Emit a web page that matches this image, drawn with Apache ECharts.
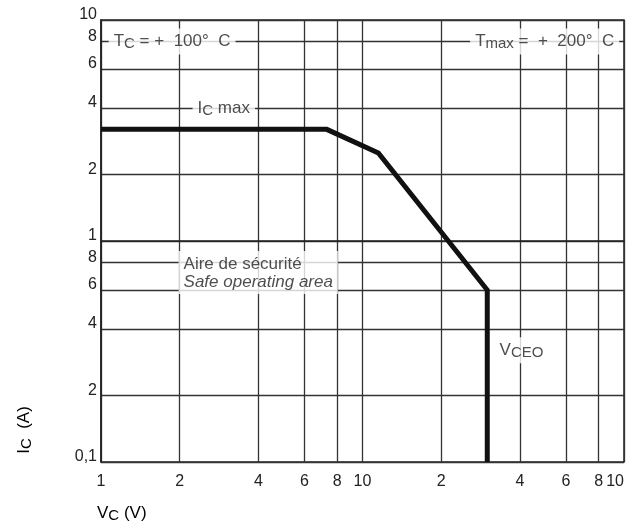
<!DOCTYPE html>
<html>
<head>
<meta charset="utf-8">
<script src="https://cdn.jsdelivr.net/npm/echarts@6/dist/echarts.min.js"></script>
<style>
html,body{margin:0;padding:0;background:#fff}
#soa{width:627px;height:526px}
</style>
</head>
<body>
<div id="soa"></div>
<script>
// log-log grid ticks and their printed labels
var xTicks=[1,2,4,6,8,10,20,40,60,80,100]
var xTickLabels=['1','2','4','6','8','10','2','4','6','8','10']
var yTicks=[0.1,0.2,0.4,0.6,0.8,1,2,4,6,8,10]
var yTickLabels=['0,1','2','4','6','8','1','2','4','6','8','10']

// safe operating area limit : Vc (V) / Ic (A)
var vcLimit=[1,7.3,11.5,30,30]
var icLimit=[3.2,3.2,2.5,0.6,0.1]

// annotations written on the grid (anchor = left edge, vertical middle)
var noteText=[
	'{n|T}{s|C}{n| = +  100°  C}',
	'{n|T}{s|max}{n| =  +  200°  C}',
	'{n|I}{s|C}{n| max}',
	'{n|Aire de sécurité}\n{i|Safe operating area}',
	'{n|V}{s|CEO}'
]
var noteVc=[1.07,25.8,2.24,1.98,32]
var noteIc=[8,8,4,0.72,0.32]

var lg=function(v){return Math.log10(v)}
var ink='#222'
var richText={
	n:{fontSize:17,lineHeight:20,color:ink,fontFamily:'Liberation Sans'},
	s:{fontSize:15,lineHeight:15,verticalAlign:'bottom',color:ink,fontFamily:'Liberation Sans'},
	i:{fontSize:17,lineHeight:17,fontStyle:'italic',color:ink,fontFamily:'Liberation Sans'}
}

function tickLabel(ticks,labels){
	return function(v){
		for(var k=0;k<ticks.length;k++){
			if(Math.abs(lg(ticks[k])-v)<1e-6){return labels[k]}
		}
		return ''
	}
}

var soa=echarts.init(document.getElementById('soa'))

var curve=[]
for(var k=0;k<vcLimit.length;k++){curve.push([lg(vcLimit[k]),lg(icLimit[k])])}
var notes=[]
for(var k=0;k<noteText.length;k++){notes.push({value:[lg(noteVc[k]),lg(noteIc[k])],txt:noteText[k]})}

var optionSoa={
	animation:false,
	backgroundColor:'#fff',
	textStyle:{fontFamily:'Liberation Sans'},
	grid:{
		left:101,right:3,top:20,bottom:64,
		show:true,borderColor:ink,borderWidth:1.5,
		outerBoundsMode:'none'
	},
	xAxis:{
		type:'value',
		min:lg(xTicks[0]),max:lg(xTicks[xTicks.length-1]),
		axisLine:{show:true,lineStyle:{color:ink,width:1.5}},
		axisTick:{show:false,customValues:xTicks.map(lg)},
		axisLabel:{
			customValues:xTicks.map(lg),
			formatter:tickLabel(xTicks,xTickLabels),
			color:ink,fontSize:16,margin:12,
			alignMaxLabel:'right'
		},
		splitLine:{show:true,lineStyle:{color:'#333',width:1.3}}
	},
	yAxis:{
		type:'value',
		min:lg(yTicks[0]),max:lg(yTicks[yTicks.length-1]),
		axisLine:{show:true,lineStyle:{color:ink,width:1.5}},
		axisTick:{show:false,customValues:yTicks.map(lg)},
		axisLabel:{
			customValues:yTicks.map(lg),
			formatter:tickLabel(yTicks,yTickLabels),
			color:ink,fontSize:16,margin:4,
			verticalAlign:'bottom',lineHeight:10
		},
		splitLine:{show:true,lineStyle:{color:'#333',width:1.3}}
	},
	graphic:[
		{
			type:'text',left:97,top:505,
			style:{text:'{n|V}{s|C}{n| (V)}',rich:richText}
		},
		{
			type:'text',x:24,y:430,rotation:Math.PI/2,
			style:{text:'{n|I}{s|C}{n|  (A)}',rich:richText,align:'center',verticalAlign:'middle'}
		}
	],
	series:[
		{
			name:'limite',
			type:'line',
			data:curve,
			symbol:'none',
			silent:true,
			lineStyle:{color:'#111',width:5,join:'miter'},
			z:3
		},
		{
			name:'notes',
			type:'scatter',
			data:notes,
			symbolSize:0,
			silent:true,
			z:4,
			label:{
				show:true,
				position:'right',
				distance:0,
				backgroundColor:'#fff',
				padding:[3,5],
				formatter:function(p){return p.data.txt},
				rich:richText
			}
		}
	]
}
soa.setOption(optionSoa)
</script>
</body>
</html>
